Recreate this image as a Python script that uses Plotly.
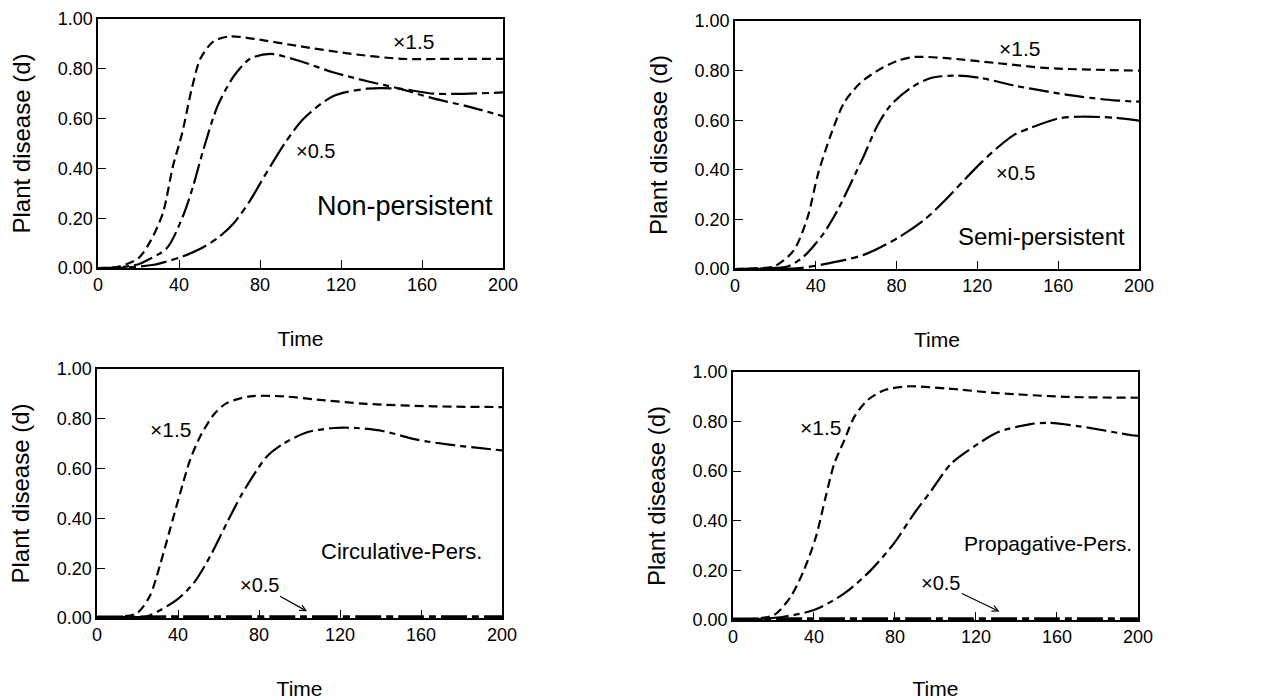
import plotly.graph_objects as go

# ---------------- data ----------------
x_ticks = [0, 40, 80, 120, 160, 200]
y_ticks = [0.0, 0.2, 0.4, 0.6, 0.8, 1.0]

# Panel 1: Non-persistent
np_hi_t = [0, 10, 20, 26, 32, 37, 41.5, 46, 50.5, 57, 65, 77, 100, 125, 150, 175, 200]
np_hi_y = [0, 0.005, 0.04, 0.11, 0.22, 0.41, 0.54, 0.71, 0.84, 0.91, 0.93, 0.92, 0.89, 0.86, 0.84, 0.84, 0.84]
np_base_t = [0, 10, 20, 24, 34, 42, 47, 52, 59, 67, 75, 85, 100, 116, 133, 149, 166, 182, 200]
np_base_y = [0, 0.003, 0.015, 0.03, 0.08, 0.21, 0.33, 0.475, 0.65, 0.77, 0.84, 0.86, 0.83, 0.786, 0.75, 0.72, 0.68, 0.65, 0.61]
np_lo_t = [0, 15, 27.5, 42, 50, 59, 67, 75, 83, 93, 101.6, 116, 133, 149, 166, 200]
np_lo_y = [0, 0.003, 0.013, 0.047, 0.075, 0.12, 0.18, 0.27, 0.38, 0.51, 0.60, 0.69, 0.72, 0.72, 0.70, 0.705]

# Panel 2: Semi-persistent
sp_hi_t = [0, 10, 19.3, 29, 36, 41, 47.4, 54, 62, 70.6, 80.5, 89, 105, 130, 155, 200]
sp_hi_y = [0, 0.003, 0.01, 0.074, 0.21, 0.38, 0.54, 0.67, 0.75, 0.80, 0.84, 0.855, 0.85, 0.83, 0.81, 0.80]
sp_base_t = [0, 15, 26, 34, 44, 51, 57, 64, 70.6, 77, 87, 97, 110, 122, 138, 155, 171, 188, 200]
sp_base_y = [0, 0.003, 0.01, 0.05, 0.145, 0.24, 0.34, 0.46, 0.58, 0.66, 0.73, 0.77, 0.78, 0.77, 0.74, 0.715, 0.695, 0.68, 0.675]
sp_lo_t = [0, 20, 32, 47, 64, 80.5, 94, 105, 113.6, 122, 130, 138, 146.6, 160, 171, 188, 200]
sp_lo_y = [0, 0.001, 0.004, 0.024, 0.058, 0.125, 0.20, 0.285, 0.36, 0.43, 0.49, 0.54, 0.57, 0.607, 0.614, 0.61, 0.598]

# Panel 3: Circulative-Pers.
cp_hi_t = [0, 10, 19.8, 26, 31, 36, 41, 46, 51, 57.6, 64, 75.7, 92, 108.6, 133, 166, 200]
cp_hi_y = [0, 0.004, 0.02, 0.087, 0.21, 0.355, 0.50, 0.636, 0.73, 0.816, 0.863, 0.89, 0.89, 0.877, 0.86, 0.85, 0.847]
cp_base_t = [0, 15, 24.7, 39.5, 47.7, 56, 64, 71, 77, 84, 92, 103.7, 117, 128, 141.5, 158, 174, 186, 200]
cp_base_y = [0, 0.004, 0.007, 0.074, 0.14, 0.25, 0.38, 0.49, 0.57, 0.65, 0.70, 0.746, 0.763, 0.763, 0.75, 0.716, 0.696, 0.685, 0.673]
cp_lo_t = [0, 50, 100, 150, 200]
cp_lo_y = [0.002, 0.003, 0.003, 0.003, 0.003]

# Panel 4: Propagative-Pers.
pp_hi_t = [0, 10, 20.3, 28.5, 35, 41, 45.8, 50, 55, 60, 66.4, 74.7, 86, 106, 130.7, 163.7, 200]
pp_hi_y = [0, 0.005, 0.02, 0.094, 0.20, 0.336, 0.497, 0.63, 0.725, 0.82, 0.886, 0.926, 0.942, 0.933, 0.915, 0.90, 0.896]
pp_base_t = [0, 15, 25, 40, 55, 68, 79.6, 89.5, 97.8, 107.7, 121, 131, 147, 155.5, 172, 196.7, 200]
pp_base_y = [0, 0.005, 0.013, 0.04, 0.107, 0.20, 0.31, 0.43, 0.52, 0.63, 0.71, 0.758, 0.79, 0.795, 0.78, 0.745, 0.742]
pp_lo_t = [0, 50, 100, 150, 200]
pp_lo_y = [0.002, 0.003, 0.003, 0.003, 0.003]

panel_names = ["Non-persistent", "Semi-persistent", "Circulative-Pers.", "Propagative-Pers."]

# ---------------- figure ----------------
FONT = "Liberation Sans, Arial, Helvetica, sans-serif"
fig = go.Figure()

domains = [
    ([0.0777, 0.3986], [0.6171, 0.9729]),
    ([0.5824, 0.9025], [0.6157, 0.9700]),
    ([0.0769, 0.3978], [0.1171, 0.4729]),
    ([0.5808, 0.9017], [0.1143, 0.4686]),
]

series = [
    (np_hi_t, np_hi_y, np_base_t, np_base_y, np_lo_t, np_lo_y),
    (sp_hi_t, sp_hi_y, sp_base_t, sp_base_y, sp_lo_t, sp_lo_y),
    (cp_hi_t, cp_hi_y, cp_base_t, cp_base_y, cp_lo_t, cp_lo_y),
    (pp_hi_t, pp_hi_y, pp_base_t, pp_base_y, pp_lo_t, pp_lo_y),
]

DASH_HI = "9px,5px"
DASH_BASE = "20px,5px,6px,5px"
DASH_LO = "26px,5px,7px,5px"

for i, (ht, hy, bt, by, lt, ly) in enumerate(series):
    xa = "x" if i == 0 else f"x{i+1}"
    ya = "y" if i == 0 else f"y{i+1}"
    lo_w = 2.2 if i < 2 else 4
    fig.add_trace(go.Scatter(x=lt, y=ly, mode="lines", xaxis=xa, yaxis=ya,
                             line=dict(color="black", width=lo_w, dash=DASH_LO, shape="spline", smoothing=0.8),
                             showlegend=False, hoverinfo="skip"))
    fig.add_trace(go.Scatter(x=bt, y=by, mode="lines", xaxis=xa, yaxis=ya,
                             line=dict(color="black", width=2.2, dash=DASH_BASE, shape="spline", smoothing=0.8),
                             showlegend=False, hoverinfo="skip"))
    fig.add_trace(go.Scatter(x=ht, y=hy, mode="lines", xaxis=xa, yaxis=ya,
                             line=dict(color="black", width=2.2, dash=DASH_HI, shape="spline", smoothing=0.8),
                             showlegend=False, hoverinfo="skip"))

layout = dict(
    width=1262, height=700,
    margin=dict(l=0, r=0, t=0, b=0, autoexpand=False),
    paper_bgcolor="white", plot_bgcolor="white",
    font=dict(family=FONT, color="black"),
    showlegend=False,
)

for i, (dx, dy) in enumerate(domains):
    xk = "xaxis" if i == 0 else f"xaxis{i+1}"
    yk = "yaxis" if i == 0 else f"yaxis{i+1}"
    xa = "x" if i == 0 else f"x{i+1}"
    ya = "y" if i == 0 else f"y{i+1}"
    layout[xk] = dict(domain=dx, anchor=ya, range=[0, 200], tickvals=x_ticks,
                      ticktext=[str(v) for v in x_ticks], automargin=False,
                      showline=True, linecolor="black", linewidth=1.5, mirror=True,
                      ticks="inside", ticklen=8, tickwidth=1.2, tickcolor="black",
                      showgrid=False, zeroline=False,
                      tickfont=dict(size=18, family=FONT),
                      title=dict(text="Time", font=dict(size=21, family=FONT), standoff=37))
    layout[yk] = dict(domain=dy, anchor=xa, range=[0, 1.0], tickvals=y_ticks,
                      ticktext=[f"{v:.2f}" for v in y_ticks], automargin=False,
                      showline=True, linecolor="black", linewidth=1.5, mirror=True,
                      ticks="inside", ticklen=8, tickwidth=1.2, tickcolor="black",
                      showgrid=False, zeroline=False,
                      tickfont=dict(size=18, family=FONT),
                      title=dict(text="Plant disease (d)", font=dict(size=24, family=FONT), standoff=20))

fig.update_layout(**layout)

def ann(i, x, y, text, size=21, **kw):
    xa = "x" if i == 0 else f"x{i+1}"
    ya = "y" if i == 0 else f"y{i+1}"
    d = dict(x=x, y=y, xref=xa, yref=ya, text=text, showarrow=False,
             font=dict(size=size, family=FONT, color="black"))
    d.update(kw)
    fig.add_annotation(**d)

# Panel 1
ann(0, 156, 0.91, "×1.5")
ann(0, 107.3, 0.47, "×0.5", size=20)
ann(0, 151.8, 0.25, "Non-persistent", size=27)
# Panel 2
ann(1, 141, 0.89, "×1.5")
ann(1, 139, 0.386, "×0.5", size=20)
ann(1, 151.6, 0.131, "Semi-persistent", size=24)
# Panel 3
ann(2, 36.2, 0.756, "×1.5")
ann(2, 150.6, 0.268, "Circulative-Pers.", size=22)
fig.add_annotation(x=103.7, y=0.027, xref="x3", yref="y3", ax=80, ay=0.134, axref="x3", ayref="y3",
                   text="×0.5", showarrow=True, arrowhead=5, arrowsize=1, arrowwidth=1.2,
                   arrowcolor="black", standoff=0, font=dict(size=20, family=FONT, color="black"))
# Panel 4
ann(3, 43.4, 0.778, "×1.5")
ann(3, 155.5, 0.309, "Propagative-Pers.", size=21)
fig.add_annotation(x=131.6, y=0.034, xref="x4", yref="y4", ax=102.7, ay=0.148, axref="x4", ayref="y4",
                   text="×0.5", showarrow=True, arrowhead=5, arrowsize=1, arrowwidth=1.2,
                   arrowcolor="black", standoff=0, font=dict(size=20, family=FONT, color="black"))

fig.write_html("out.html")
